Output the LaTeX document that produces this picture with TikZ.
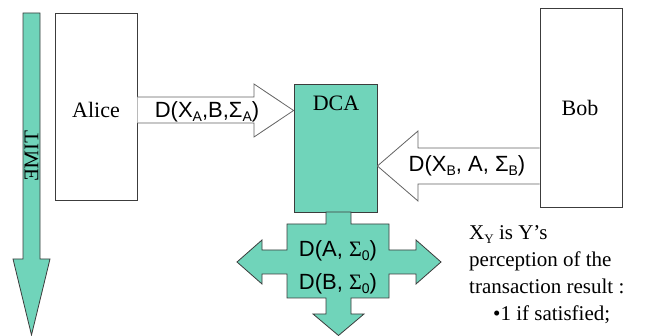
\documentclass[tikz,border=0pt]{standalone}
\usepackage{fontspec}
\setmainfont{Liberation Serif}
\setsansfont{Liberation Sans}
\usepackage{graphicx}
% lowered subscript with a fixed size (class size commands are absolute)
\newcommand\lowsub[2][14]{\raisebox{-4pt}{\fontsize{#1}{#1}\selectfont #2}}
\definecolor{dcateal}{RGB}{112,212,186}
\definecolor{edgegray}{RGB}{60,60,60}
\tikzset{
  party/.style={draw=edgegray, line width=0.9pt, fill=white, inner sep=0pt},
  tealshape/.style={draw=edgegray, line width=0.8pt, fill=dcateal, line join=miter},
  whitearrow/.style={draw=edgegray!80, line width=0.8pt, fill=white, line join=miter},
  seriftext/.style={font=\rmfamily\fontsize{22}{26}\selectfont, inner sep=0pt},
  sanstext/.style={font=\sffamily\fontsize{22}{26}\selectfont, inner sep=0pt},
  notetext/.style={font=\rmfamily\fontsize{21}{25}\selectfont, inner sep=0pt, anchor=base west},
}
\begin{document}
\begin{tikzpicture}[x=1pt, y=-1pt]
\useasboundingbox (0,0) rectangle (651,336);

% time axis
\draw[tealshape] (23,13) -- (40,13) -- (40,259) -- (50,259) -- (31.5,335)
  -- (13,259) -- (23,259) -- cycle;
\node[rotate=-90, font=\rmfamily\fontsize{21}{25}\selectfont, inner sep=0pt] (time) at (31.5,156) {\scalebox{1}[-1]{TIME}};

% parties
\node[party, minimum width=82pt, minimum height=187pt] (alice) at (96,106.5) {};
\node[seriftext] (alicetext) at (96,110) {Alice};
\node[party, minimum width=82pt, minimum height=199pt] (bob) at (581,107.5) {};
\node[seriftext] (bobtext) at (580,108) {Bob};

% DCA box
\node[tealshape, minimum width=83pt, minimum height=128pt, inner sep=0pt] (dca) at (335.5,148) {};
\node[seriftext] (dcatext) at (336,103) {DCA};

% Alice -> DCA
\draw[whitearrow] (alice.east |- 0,97) -- (254,97) -- (254,84) -- (dca.west |- 0,110.5)
  -- (254,137) -- (254,123) -- (alice.east |- 0,123);
\node[sanstext] (msga) at (207,112) {D(X\lowsub{A},B,Σ\lowsub{A})};

% Bob -> DCA
\draw[whitearrow] (bob.west |- 0,148) -- (418,148) -- (418,131) -- (dca.east |- 0,166)
  -- (418,201) -- (418,184) -- (bob.west |- 0,184);
\node[sanstext] (msgb) at (467,166) {D(X\lowsub{B}, A, Σ\lowsub{B})};

% DCA output, spread in four directions
\draw[tealshape] (326,212) -- (351,212) -- (351,224) -- (389,224) -- (389,250)
  -- (416,250) -- (416,240) -- (441,262) -- (416,284) -- (416,274) -- (389,274)
  -- (389,298) -- (351,298) -- (351,314) -- (364,314) -- (338.5,335.5) -- (313,314)
  -- (326,314) -- (326,298) -- (287,298) -- (287,274) -- (262,274) -- (262,284)
  -- (237,262) -- (262,240) -- (262,250) -- (287,250) -- (287,224) -- (326,224) -- cycle;
\node[sanstext] (outa) at (338,251) {D(A, {\rmfamily Σ}\lowsub{0})};
\node[sanstext] (outb) at (338,284) {D(B, {\rmfamily Σ}\lowsub{0})};

% note on the meaning of X_Y
\node[notetext] (note1) at (469,240) {X\lowsub[13]{Y} is Y’s};
\node[notetext] (note2) at (469,267) {perception of the};
\node[notetext] (note3) at (469,294) {transaction result :};
\node[notetext] (note4) at (493,321) {•1 if satisfied;};
\end{tikzpicture}
\end{document}
